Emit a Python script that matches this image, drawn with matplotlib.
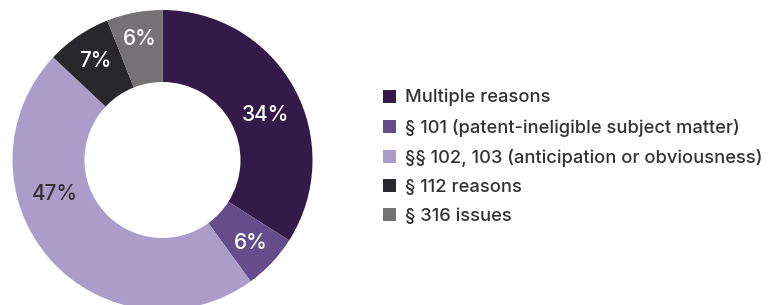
import numpy as np
import matplotlib.pyplot as plt
from matplotlib.patches import Patch

plt.rcParams['font.family'] = ['Inter', 'DejaVu Sans']

# Dados do gráfico
categorias = ['Multiple reasons',
              '§ 101 (patent-ineligible subject matter)',
              '§§ 102, 103 (anticipation or obviousness)',
              '§ 112 reasons',
              '§ 316 issues']
valores = [34, 6, 47, 7, 6]
rotulos = ['34%', '6%', '47%', '7%', '6%']

cores = ['#341a48', '#654d8c', '#ab9dca', '#28272c', '#747275']
cores_texto = ['white', 'white', '#333333', 'white', 'white']
raio_rotulo = [0.75, 0.81, 0.75, 0.80, 0.82]
desvio_angulo = [-5, 0, -23.6, 0, 0]  # ajuste fino dos rótulos

fig = plt.figure(figsize=(7.7, 3.05), dpi=100)
ax = fig.add_axes([12.5 / 770, -5 / 305, 300 / 770, 300 / 305])

wedges, _ = ax.pie(valores, colors=cores, startangle=90, counterclock=False,
                   radius=1, wedgeprops=dict(width=0.48, linewidth=0))
ax.set_xlim(-1, 1)
ax.set_ylim(-1, 1)
ax.set_aspect('equal')
ax.axis('off')

# Rótulos de percentagem
for w, txt, cor, r, d in zip(wedges, rotulos, cores_texto, raio_rotulo, desvio_angulo):
    ang = np.deg2rad((w.theta1 + w.theta2) / 2 + d)
    ax.text(r * np.cos(ang), r * np.sin(ang), txt, ha='center', va='center',
            fontsize=15, color=cor, fontweight='medium')

# Legenda
handles = [Patch(facecolor=c, edgecolor='none') for c in cores]
fig.legend(handles, categorias, loc='upper left',
           bbox_to_anchor=(383 / 770, 1 - 89 / 305), frameon=False,
           prop=dict(size=13.2, weight='medium'), labelcolor='#333333',
           handlelength=0.72, handleheight=0.72, handletextpad=0.5,
           labelspacing=0.66, borderaxespad=0, borderpad=0)

fig.savefig('out.png', dpi=100)
